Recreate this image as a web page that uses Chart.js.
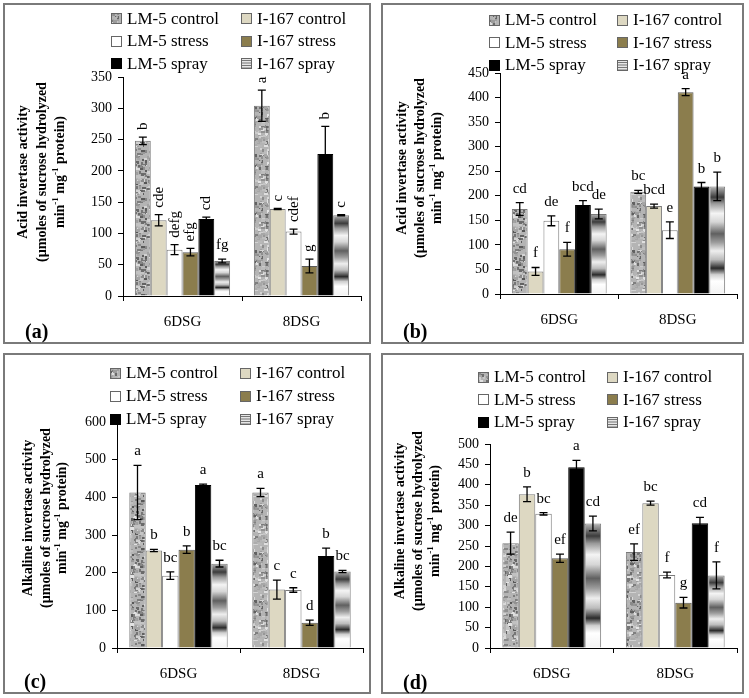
<!DOCTYPE html>
<html>
<head>
<meta charset="utf-8">
<script src="https://cdn.jsdelivr.net/npm/chart.js@4.4.1/dist/chart.umd.min.js"></script>
<style>
  body { margin: 0; background: #fff; width: 749px; height: 698px; position: relative; overflow: hidden; }
  .panel { position: absolute; box-sizing: border-box; border: 2px solid #7a7a7a; }
  canvas { position: absolute; }
</style>
</head>
<body>
<script>
"use strict";

// Categories and series (same in all four panels)
const categories = ["6DSG", "8DSG"];
const seriesNames = ["LM-5 control", "I-167 control", "LM-5 stress", "I-167 stress", "LM-5 spray", "I-167 spray"];

// (a) acid invertase — rows follow seriesNames, columns follow categories
const acidMeansA   = [[248, 304], [121, 139], [74, 103], [70, 48], [123, 227], [56, 129]];
const acidErrA     = [[6, 25], [9, 1], [8, 4], [6, 11], [3, 44], [3, 1]];
const acidLettersA = [["b", "a"], ["cde", "c"], ["defg", "cdef"], ["efg", "g"], ["cd", "b"], ["fg", "c"]];

// (b) acid invertase
const acidMeansB   = [[173, 208], [46, 179], [149, 130], [91, 411], [181, 219], [163, 219]];
const acidErrB     = [[13, 3], [8, 4], [10, 17], [14, 7], [9, 8], [10, 29]];
const acidLettersB = [["cd", "bc"], ["f", "bcd"], ["de", "e"], ["f", "a"], ["bcd", "b"], ["de", "b"]];

// (c) alkaline invertase
const alkMeansC   = [[413, 413], [259, 155], [192, 154], [261, 67], [433, 244], [224, 203]];
const alkErrC     = [[72, 11], [3, 25], [10, 6], [10, 7], [2, 21], [9, 3]];
const alkLettersC = [["a", "a"], ["b", "c"], ["bc", "c"], ["b", "d"], ["a", "b"], ["bc", "bc"]];

// (d) alkaline invertase
const alkMeansD   = [[257, 235], [377, 355], [329, 179], [220, 111], [443, 306], [305, 178]];
const alkErrD     = [[27, 20], [18, 5], [3, 7], [10, 13], [17, 14], [18, 33]];
const alkLettersD = [["de", "ef"], ["b", "bc"], ["bc", "f"], ["ef", "g"], ["a", "cd"], ["cd", "f"]];

// Axis titles: [text, isSuperscript]
const acidTitle = [[["Acid invertase activity", 0]], [["(\u00b5moles of sucrose hydrolyzed", 0]],
                   [["min", 0], ["-1", 1], [" mg", 0], ["-1", 1], [" protein)", 0]]];
const alkTitle  = [[["Alkaline invertase activity", 0]], [["(\u00b5moles of sucrose hydrolyzed", 0]],
                   [["min", 0], ["-1", 1], [" mg", 0], ["-1", 1], [" protein)", 0]]];

const SERIF = "'Liberation Serif', 'Times New Roman', serif";

// Mottled grey texture used for LM-5 control
function makeGranite() {
    const c = document.createElement("canvas");
    c.width = c.height = 48;
    const g = c.getContext("2d");
    g.fillStyle = "#b4b4b4";
    g.fillRect(0, 0, 48, 48);
    let s = 987654;
    const rnd = () => (s = (s * 16807) % 2147483647) / 2147483647;
    for (let i = 0; i < 300; i++) {
        const v = Math.floor(85 + rnd() * 145);
        g.fillStyle = "rgb(" + v + "," + v + "," + v + ")";
        g.fillRect(Math.floor(rnd() * 48), Math.floor(rnd() * 48), 2 + Math.floor(rnd() * 3), 2 + Math.floor(rnd() * 2));
    }
    return g.createPattern(c, "repeat");
}
const granite = makeGranite();

// Chrome-like banded gradient used for I-167 spray, stretched over each bar
const sprayStops = [[0, "#b8b8b8"], [0.1, "#3c3c3c"], [0.16, "#9a9a9a"], [0.25, "#f4f4f4"], [0.33, "#d6d6d6"],
                    [0.44, "#606060"], [0.52, "#9c9c9c"], [0.6, "#eeeeee"], [0.68, "#bcbcbc"], [0.76, "#2a2a2a"],
                    [0.82, "#cfcfcf"], [0.88, "#ffffff"], [1, "#f2f2f2"]];
function sprayFill(c) {
    const chart = c.chart;
    const y = chart.scales && chart.scales.y;
    if (c.type !== "data" || !y) return "#c8c8c8";
    const top = y.getPixelForValue(c.raw), bot = y.getPixelForValue(0);
    if (!isFinite(top) || !isFinite(bot) || bot - top < 1) return "#c8c8c8";
    const g = chart.ctx.createLinearGradient(0, top, 0, bot);
    sprayStops.forEach(([o, col]) => g.addColorStop(o, col));
    return g;
}

const fills   = [granite, "#ddd8c2", "#ffffff", "#8b7d4d", "#000000", sprayFill];
const borders = ["#7a7a7a", "#7a7a7a", "#7a7a7a", "#5a5a5a", "#000000", "#7a7a7a"];

// Layout of the four framed panels (page pixels)
const R1 = [[1, 1], [1, 1], [1, 1], [1, 1], [1, 1], [0, 1]];
const panels = [
    { tag: "(a)", box: [3, 3, 368, 341], area: [123, 77, 361, 296], yMax: 350, yStep: 50,
      title: acidTitle, titleX: [23, 42, 60], titleY: 172, legend: [111, 241, 18.5, 22.5], tagPos: [25, 338],
      means: acidMeansA, errors: acidErrA, letters: acidLettersA, rotate: R1 },
    { tag: "(b)", box: [381, 3, 363, 341], area: [500, 73, 737, 294], yMax: 450, yStep: 50,
      title: acidTitle, titleX: [402, 420, 437], titleY: 168, legend: [489, 617, 20, 22.5], tagPos: [403, 338],
      means: acidMeansB, errors: acidErrB, letters: acidLettersB, rotate: null },
    { tag: "(c)", box: [3, 353, 368, 341], area: [117, 422, 363, 648], yMax: 600, yStep: 100,
      title: alkTitle, titleX: [28, 46, 62], titleY: 518, legend: [110, 240, 373, 23], tagPos: [24, 688],
      means: alkMeansC, errors: alkErrC, letters: alkLettersC, rotate: null },
    { tag: "(d)", box: [381, 353, 363, 341], area: [490, 444, 737, 648], yMax: 500, yStep: 50,
      title: alkTitle, titleX: [400, 418, 435], titleY: 521, legend: [478, 607, 377, 22.5], tagPos: [403, 689],
      means: alkMeansD, errors: alkErrD, letters: alkLettersD, rotate: null }
];

function drawLegendBox(ctx, k, x, y, s) {
    if (k === 5) {
        ctx.fillStyle = "#e6e6e6";
        ctx.fillRect(x, y, s, s);
        ctx.strokeStyle = "#777";
        ctx.lineWidth = 1;
        for (let yy = y + 2.5; yy < y + s; yy += 2.5) {
            ctx.beginPath(); ctx.moveTo(x, yy); ctx.lineTo(x + s, yy); ctx.stroke();
        }
    } else {
        ctx.fillStyle = fills[k];
        ctx.fillRect(x, y, s, s);
    }
    ctx.strokeStyle = k === 4 ? "#000" : "#666";
    ctx.lineWidth = 1;
    ctx.strokeRect(x + 0.5, y + 0.5, s - 1, s - 1);
}

function makeDecor(p) {
    const bx = p.box[0], by = p.box[1];
    return {
        id: "panelDecor",
        afterDatasetsDraw(chart) {
            const ctx = chart.ctx, y = chart.scales.y;
            ctx.save();
            // error bars
            chart.data.datasets.forEach((ds, i) => {
                chart.getDatasetMeta(i).data.forEach((bar, j) => {
                    const v = ds.data[j], e = p.errors[i][j];
                    const yTop = y.getPixelForValue(v + e), yBot = y.getPixelForValue(v - e);
                    ctx.strokeStyle = "#000";
                    ctx.lineWidth = 1.3;
                    ctx.beginPath();
                    ctx.moveTo(bar.x, yTop); ctx.lineTo(bar.x, yBot);
                    ctx.moveTo(bar.x - 4, yTop); ctx.lineTo(bar.x + 4, yTop);
                    ctx.moveTo(bar.x - 4, yBot); ctx.lineTo(bar.x + 4, yBot);
                    ctx.stroke();
                });
            });
            // significance letters
            ctx.fillStyle = "#000";
            ctx.font = "15px " + SERIF;
            chart.data.datasets.forEach((ds, i) => {
                chart.getDatasetMeta(i).data.forEach((bar, j) => {
                    const yTop = y.getPixelForValue(ds.data[j] + p.errors[i][j]);
                    const txt = p.letters[i][j];
                    if (p.rotate && p.rotate[i][j]) {
                        ctx.save();
                        ctx.translate(bar.x, yTop - 7);
                        ctx.rotate(-Math.PI / 2);
                        ctx.textAlign = "left";
                        ctx.textBaseline = "middle";
                        ctx.fillText(txt, 0, 0);
                        ctx.restore();
                    } else {
                        ctx.textAlign = "center";
                        ctx.textBaseline = "alphabetic";
                        ctx.fillText(txt, bar.x, yTop - 10);
                    }
                });
            });
            ctx.restore();
        },
        afterDraw(chart) {
            const ctx = chart.ctx;
            ctx.save();
            // legend in two columns
            const [c1, c2, y0, gap] = p.legend;
            ctx.textAlign = "left";
            ctx.textBaseline = "middle";
            seriesNames.forEach((name, k) => {
                const x = (k % 2 ? c2 : c1) - bx;
                const cy = y0 + (k >> 1) * gap - by;
                drawLegendBox(ctx, k, x, Math.round(cy - 5.5), 11);
                ctx.fillStyle = "#000";
                ctx.font = "17px " + SERIF;
                ctx.fillText(name, x + 16, cy + 1);
            });
            // rotated y-axis title with superscripts
            p.title.forEach((parts, k) => {
                ctx.save();
                ctx.translate(p.titleX[k] - bx, p.titleY - by);
                ctx.rotate(-Math.PI / 2);
                ctx.textBaseline = "middle";
                ctx.textAlign = "left";
                const font = s => s ? "bold 9px " + SERIF : "bold 14px " + SERIF;
                let total = 0;
                parts.forEach(([t, s]) => { ctx.font = font(s); total += ctx.measureText(t).width; });
                let cx = -total / 2;
                parts.forEach(([t, s]) => {
                    ctx.font = font(s);
                    ctx.fillStyle = "#000";
                    ctx.fillText(t, cx, s ? -4 : 0);
                    cx += ctx.measureText(t).width;
                });
                ctx.restore();
            });
            // panel tag
            ctx.font = "bold 20px " + SERIF;
            ctx.textAlign = "left";
            ctx.textBaseline = "alphabetic";
            ctx.fillStyle = "#000";
            ctx.fillText(p.tag, p.tagPos[0] - bx, p.tagPos[1] - by);
            ctx.restore();
        }
    };
}

function buildPanel(p) {
    const [bx, by, bw, bh] = p.box;
    const frame = document.createElement("div");
    frame.className = "panel";
    Object.assign(frame.style, { left: bx + "px", top: by + "px", width: bw + "px", height: bh + "px" });
    document.body.appendChild(frame);

    const cv = document.createElement("canvas");
    cv.width = bw;
    cv.height = bh;
    Object.assign(cv.style, { left: bx + "px", top: by + "px", width: bw + "px", height: bh + "px" });
    document.body.appendChild(cv);

    const [L, T, R, B] = p.area;
    const yW = 40, xH = 34;
    const padding = { left: L - bx - yW, top: T - by, right: bx + bw - R, bottom: by + bh - B - xH };

    new Chart(cv.getContext("2d"), {
        type: "bar",
        data: {
            labels: categories,
            datasets: seriesNames.map((name, i) => ({
                label: name,
                data: p.means[i],
                backgroundColor: fills[i],
                borderColor: borders[i],
                borderWidth: 1,
                categoryPercentage: 0.8,
                barPercentage: 1
            }))
        },
        options: {
            responsive: false,
            animation: false,
            layout: { padding },
            plugins: { legend: { display: false }, tooltip: { enabled: false } },
            scales: {
                x: {
                    afterFit: s => { s.height = xH; },
                    grid: { display: true, drawOnChartArea: false, drawTicks: true, tickLength: 5, color: "#000", offset: true },
                    border: { display: true, color: "#000", width: 1 },
                    ticks: { color: "#000", font: { family: SERIF, size: 15 }, padding: 12 }
                },
                y: {
                    min: 0,
                    max: p.yMax,
                    afterFit: s => { s.width = yW; },
                    grid: { display: true, drawOnChartArea: false, drawTicks: true, tickLength: 5, color: "#000" },
                    border: { display: true, color: "#000", width: 1 },
                    ticks: { stepSize: p.yStep, color: "#000", font: { family: SERIF, size: 14 }, padding: 6 }
                }
            }
        },
        plugins: [makeDecor(p)]
    });
}

panels.forEach(buildPanel);
</script>
</body>
</html>
